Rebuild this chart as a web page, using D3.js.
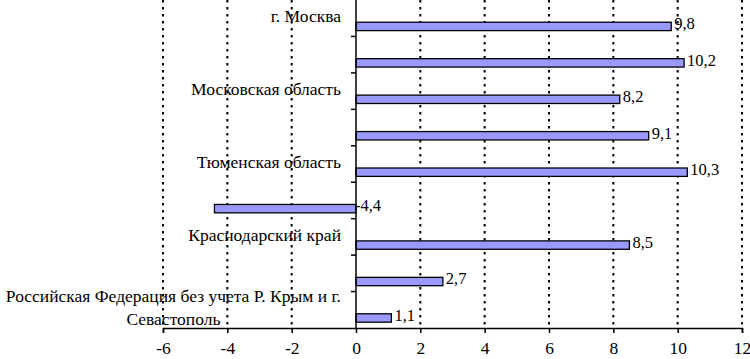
<!DOCTYPE html>
<html>
<head>
<meta charset="utf-8">
<script src="https://cdn.jsdelivr.net/npm/d3@7"></script>
<style>
  html, body { margin: 0; padding: 0; background: #fff; }
  svg text { font-family: 'Liberation Serif', 'DejaVu Serif', 'Times New Roman', serif !important; }
</style>
</head>
<body>
<div id="chart"></div>
<script>
// Region labels (Excel showed only every second label)
const regions = [
  'г. Москва',
  '',
  'Московская область',
  '',
  'Тюменская область',
  '',
  'Краснодарский край',
  '',
  'Российская Федерация без учета Р. Крым и г. Севастополь'
];
const values = [9.8, 10.2, 8.2, 9.1, 10.3, -4.4, 8.5, 2.7, 1.1];
const xTicks = [-6, -4, -2, 0, 2, 4, 6, 8, 10, 12];

const width = 750;
const height = 359;
const margin = { top: 0, right: 8, bottom: 31, left: 163 };
const innerW = width - margin.left - margin.right;
const innerH = height - margin.top - margin.bottom;

const svg = d3.select('#chart')
  .append('svg')
  .attr('width', width)
  .attr('height', height);

const g = svg.append('g')
  .attr('transform', `translate(${margin.left},${margin.top})`);

// Scales
const x = d3.scaleLinear()
  .domain([-6, 12])
  .range([0, innerW]);

const y = d3.scaleBand()
  .domain(d3.range(values.length))
  .range([0, innerH])
  .padding(0);

const fmt = v => d3.format('.1f')(v).replace('.', ',').replace('−', '-');

// Dotted gridlines
g.selectAll('.grid')
  .data(xTicks.filter(d => d !== 0))
  .enter()
  .append('line')
  .attr('class', 'grid')
  .attr('x1', d => x(d))
  .attr('x2', d => x(d))
  .attr('y1', 0)
  .attr('y2', innerH)
  .attr('stroke', '#000')
  .attr('stroke-width', 2)
  .attr('stroke-dasharray', '2.5,4.5');

// Bars
const barTop = 0.61;
const barH = 0.23;

g.selectAll('.bar')
  .data(values)
  .enter()
  .append('rect')
  .attr('class', 'bar')
  .attr('x', d => x(Math.min(0, d)))
  .attr('y', (d, i) => y(i) + y.bandwidth() * barTop)
  .attr('width', d => Math.abs(x(d) - x(0)))
  .attr('height', y.bandwidth() * barH)
  .attr('fill', '#9999ff')
  .attr('stroke', '#000')
  .attr('stroke-width', 1.3);

// Value labels
g.selectAll('.value')
  .data(values)
  .enter()
  .append('text')
  .attr('class', 'value')
  .attr('x', d => d >= 0 ? x(d) + 3 : x(0) - 1)
  .attr('y', (d, i) => y(i) + y.bandwidth() * (barTop + barH / 2) - 1)
  .attr('dominant-baseline', 'middle')
  .attr('font-size', '16.5px')
  .attr('fill', '#000')
  .text(d => fmt(d));

// X axis
const xAxis = g.append('g')
  .attr('transform', `translate(0,${innerH})`)
  .call(d3.axisBottom(x).tickValues(xTicks).tickSize(5).tickPadding(9).tickFormat(d => fmt(d).replace(',0', '')));

xAxis.select('.domain').attr('stroke', '#000').attr('stroke-width', 1.5);
xAxis.selectAll('line').attr('stroke', '#000').attr('stroke-width', 1.5);
xAxis.selectAll('text')
  .attr('font-size', '17.5px')
  .attr('fill', '#000');

// Y axis at zero
const yAxisG = g.append('g')
  .attr('transform', `translate(${x(0)},0)`);

yAxisG.append('line')
  .attr('y1', 0)
  .attr('y2', innerH)
  .attr('stroke', '#000')
  .attr('stroke-width', 1.5);

yAxisG.selectAll('.ytick')
  .data(d3.range(1, values.length))
  .enter()
  .append('line')
  .attr('class', 'ytick')
  .attr('x1', -5)
  .attr('x2', 0)
  .attr('y1', d => y(d))
  .attr('y2', d => y(d))
  .attr('stroke', '#000')
  .attr('stroke-width', 1.5);

// Category labels (centered multi-line block, right edge near axis)
const labelRight = x(0) - 15;
const maxLabelW = labelRight + margin.left + 8;

regions.forEach((name, i) => {
  if (!name) return;
  const cy = y(i) + y.bandwidth() / 2;
  const t = g.append('text')
    .attr('font-size', '17.5px')
    .attr('fill', '#000')
    .attr('text-anchor', 'end');
  // simple word wrap
  const words = name.split(' ');
  const lines = [];
  let cur = '';
  words.forEach(w => {
    const test = cur ? cur + ' ' + w : w;
    t.text(test);
    if (t.node().getComputedTextLength() > maxLabelW && cur) {
      lines.push(cur);
      cur = w;
    } else {
      cur = test;
    }
  });
  lines.push(cur);
  t.text(null);

  if (lines.length === 1) {
    t.attr('x', labelRight)
      .attr('y', cy)
      .attr('dominant-baseline', 'middle')
      .text(lines[0]);
  } else {
    // measure the widest line, then center lines within it
    const blockW = d3.max(lines, l => { t.text(l); return t.node().getComputedTextLength(); });
    t.text(null).attr('text-anchor', 'middle');
    const lineGap = 23;
    const cx = labelRight - blockW / 2;
    lines.forEach((l, k) => {
      t.append('tspan')
        .attr('x', cx)
        .attr('y', cy + (k - (lines.length - 1) / 2) * lineGap)
        .attr('dominant-baseline', 'middle')
        .text(l);
    });
  }
});
</script>
</body>
</html>
